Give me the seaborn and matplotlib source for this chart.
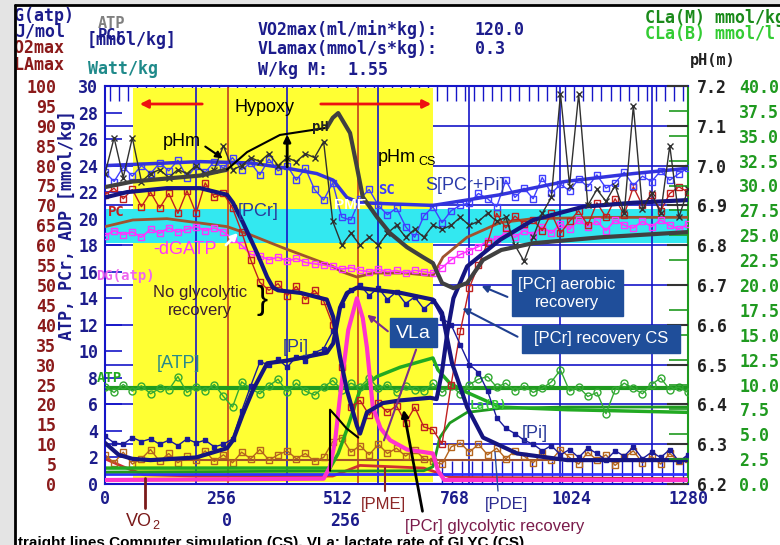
import numpy as np
import pandas as pd
import seaborn as sns
import matplotlib.pyplot as plt
from matplotlib.patches import Rectangle, FancyArrowPatch
from matplotlib.lines import Line2D

W, H = 780, 545

# ---------------- data (x in plot units 0..1280) ----------------
# measured series, one value every 20 units
t_meas = list(range(0, 1281, 20))
s_meas = [23.5, 22.8, 23.9, 23.2, 24.0, 23.4, 24.2, 23.6, 24.4, 23.1,
          24.0, 23.5, 24.3, 23.8, 24.6, 23.7, 24.2, 23.3, 24.5, 23.6,
          24.0, 22.9, 23.8, 22.2, 21.4, 22.7, 20.1, 19.9, 21.5, 22.2,
          21.0, 20.3, 20.8, 19.4, 18.6, 20.2, 20.9, 19.7, 20.6, 21.0,
          21.2, 21.9, 21.5, 20.9, 22.9, 21.6, 22.3, 21.5, 23.1, 21.9,
          22.6, 22.1, 23.0, 22.4, 23.3, 22.3, 22.7, 23.5, 22.5, 23.2,
          22.8, 23.6, 22.9, 23.4, 23.8]
ph_meas = [6.98, 7.07, 6.97, 7.07, 6.96, 6.98, 6.99, 6.97, 6.99, 6.98,
           7.00, 6.98, 6.99, 7.05, 6.99, 7.00, 7.02, 7.01, 7.03, 7.00,
           7.02, 7.01, 7.03, 7.02, 7.06, 6.86, 6.80, 6.83, 6.80, 6.82,
           6.80, 6.83, 6.85, 6.82, 6.84, 6.82, 6.85, 6.84, 6.85, 6.87,
           6.85, 6.86, 6.88, 6.86, 6.87, 6.80, 6.76, 6.82, 6.88, 6.92,
           7.18, 6.95, 7.18, 6.90, 6.94, 6.91, 6.95, 6.88, 7.15, 6.89,
           6.93, 6.88, 7.05, 6.87, 6.94]
pcr_meas = [21.8, 22.3, 21.5, 22.2, 20.9, 22.0, 20.8, 21.9, 20.4, 22.1,
            20.4, 22.7, 21.6, 21.9, 20.8, 19.0, 16.9, 15.2, 14.6, 15.1,
            14.2, 14.9, 13.9, 14.6, 13.8, 12.0, 8.8, 5.8, 6.3, 5.2,
            6.1, 5.4, 5.9, 4.6, 5.8, 4.3, 4.1, 3.0, 7.5, 11.5,
            14.8, 16.5, 18.2, 20.4, 19.3, 20.2, 19.6, 19.9, 19.1, 20.4,
            18.9, 19.8, 20.6, 19.5, 21.2, 20.1, 21.5, 20.3, 22.4, 21.0,
            21.8, 20.6, 21.9, 22.4, 22.0]
dgatp_meas = [18.7, 19.1, 18.8, 19.0, 18.6, 19.2, 18.9, 19.3, 19.0, 19.2,
              19.4, 19.1, 19.3, 19.0, 18.5, 18.0, 17.3, 17.2, 16.9, 17.1,
              16.8, 17.0, 16.7, 16.6, 16.5, 16.4, 16.2, 16.3, 16.1, 16.0,
              16.2, 16.0, 16.1, 15.9, 16.1, 16.0, 15.9, 16.3, 16.9, 17.3,
              17.6, 17.9, 18.3, 18.5, 18.9, 18.6, 19.1, 18.8, 19.4, 18.9,
              19.6, 19.2, 19.9, 19.4, 19.8, 19.1, 19.9, 19.5, 19.3, 19.8,
              19.4, 19.9, 19.5, 19.2, 19.6]
atp_meas = [7.3, 6.9, 7.5, 7.0, 7.4, 6.8, 7.2, 7.1, 8.1, 6.9,
            7.3, 7.0, 7.5, 6.6, 5.8, 7.7, 7.2, 6.8, 7.4, 7.9,
            6.9, 7.6, 7.0, 6.7, 7.3, 7.8, 7.1, 7.6, 7.3, 8.0,
            7.2, 7.5, 6.9, 7.4, 7.1, 7.0, 7.6, 6.9, 7.4, 6.8,
            7.5, 7.9, 8.1, 7.3, 7.6, 7.0, 7.4, 6.9, 7.2, 7.7,
            8.6, 7.0, 7.3, 6.6, 6.9, 5.3, 7.1, 7.6, 7.2, 6.8,
            7.5, 8.0, 7.1, 7.3, 6.9]
pi_meas = [3.6, 3.1, 3.0, 3.5, 3.2, 3.4, 3.0, 3.3, 2.9, 3.4,
           3.1, 3.3, 2.8, 3.0, 3.4, 5.5, 7.4, 9.2, 9.0, 9.4,
           8.8, 9.6, 9.3, 9.9, 10.2, 11.5, 13.5, 14.6, 15.0, 14.2,
           14.8, 13.9, 14.5, 13.6, 14.1, 13.2, 13.8, 12.5, 12.0, 10.5,
           9.0, 8.4, 7.0, 5.0, 4.2, 3.8, 3.3, 3.0, 2.5, 2.9,
           2.2, 2.6, 2.0, 2.7, 2.3, 1.8, 2.5, 2.1, 2.8, 1.9,
           2.4, 2.0, 2.6, 1.7, 2.2]
pme_meas = [2.2, 1.6, 2.4, 1.5, 1.9, 2.6, 1.7, 2.3, 1.6, 2.1,
            1.8, 2.5, 1.7, 2.2, 1.6, 2.4, 1.9, 2.6, 1.8, 2.2,
            2.5, 1.9, 2.3, 1.7, 2.0, 3.2, 3.5, 2.4, 2.9, 2.2,
            3.0, 2.3, 2.7, 2.1, 2.6, 1.9, 1.7, 1.5, 2.8, 3.1,
            2.4, 3.0, 2.2, 2.7, 1.9, 2.5, 2.1, 1.6, 2.3, 1.8,
            2.6, 2.0, 1.5, 2.4, 1.8, 2.2, 1.4, 2.0, 2.5, 1.6,
            2.1, 1.5, 2.3, 1.7, 1.9]

# computer simulation (CS) curves
pcr_t = [0, 48, 136, 209, 268, 281, 303, 334, 356, 369, 380, 430, 487, 501, 516, 531,
         553, 560, 575, 610, 648, 714, 728, 740, 752, 765, 795, 867, 940, 1050, 1160, 1280]
pcr_sim = [21.6, 22.0, 22.3, 22.3, 21.8, 21.2, 19.7, 17.4, 15.6, 14.8, 14.6, 14.4, 13.9, 12.6, 9.6, 7.1,
           4.4, 3.8, 5.4, 6.1, 6.3, 6.5, 6.4, 8.5, 11.5, 14.0, 16.4, 18.4, 19.9, 20.9, 21.2, 21.4]
pi_t = [0, 30, 60, 100, 200, 268, 281, 303, 325, 356, 400, 444, 487, 501, 516, 531, 553,
        600, 650, 720, 740, 762, 795, 830, 905, 1015, 1280]
pi_sim = [3.1, 2.2, 1.9, 1.8, 2.0, 2.7, 3.3, 5.3, 7.1, 9.1, 9.3, 9.6, 9.9, 10.6, 13.3, 14.4, 14.8,
          14.6, 14.4, 13.9, 12.9, 9.1, 5.8, 3.5, 2.3, 1.8, 1.8]
s_t = [0, 209, 319, 400, 465, 501, 531, 560, 720, 867, 1010, 1160, 1280]
s_sim = [24.0, 24.3, 24.2, 23.8, 23.4, 22.9, 21.6, 21.2, 21.0, 21.8, 22.8, 23.4, 23.8]
adp_t = [0, 61, 136, 268, 318, 391, 500, 520, 553, 590, 660, 720, 742, 795, 867, 940, 1090, 1280]
adp_sim = [19.4, 19.9, 20.0, 19.4, 18.8, 17.8, 16.4, 16.0, 15.6, 15.9, 15.9, 15.7, 17.1, 18.6,
           19.7, 20.0, 20.1, 20.1]
phcs_t = [0, 61, 209, 268, 312, 384, 487, 500, 512, 538, 553, 566, 597, 626, 663, 698, 720,
          740, 765, 795, 830, 870, 940, 1090, 1280]
phcs = [6.946, 6.960, 6.975, 6.990, 7.034, 7.077, 7.095, 7.120, 7.132, 7.082, 6.997, 6.921, 6.871,
        6.830, 6.795, 6.770, 6.755, 6.705, 6.692, 6.705, 6.763, 6.788, 6.805, 6.820, 6.833]
vla_t = [0, 480, 494, 505, 516, 534, 553, 566, 575, 588, 605, 626, 663, 720, 731, 745, 1280]
vla = [0.3, 0.4, 1.3, 3.2, 6.6, 11.6, 14.0, 12.5, 10.3, 5.8, 4.2, 3.3, 2.6, 2.3, 1.0, 0.3, 0.3]
clam_t = [0, 494, 512, 531, 560, 597, 648, 720, 731, 757, 795, 867, 1015, 1280]
clam = [1.2, 1.2, 2.3, 4.1, 7.1, 8.1, 8.8, 9.5, 8.6, 7.6, 6.9, 5.8, 5.6, 5.4]
clab_t = [0, 700, 720, 735, 757, 795, 867, 1015, 1280]
clab = [0.9, 1.0, 1.3, 3.5, 4.6, 5.4, 5.7, 5.8, 5.8]
atp_t = [0, 1280]
atp_sim = [7.2, 7.2]
vo2_t = [0, 40, 85, 200, 500, 560, 700, 760, 1280]
vo2 = [1.9, 1.3, 0.7, 0.6, 0.6, 1.4, 1.2, 0.5, 0.4]
glyc_t = [494, 494, 510, 530, 556]
glyc = [1.0, 5.6, 5.0, 4.2, 3.5]

x_ticks = [0, 256, 512, 768, 1024, 1280]
rest_ticks = ['0', '256']

# ---------------- style ----------------
sns.set_theme(style="white")
plt.rcParams['font.family'] = ['Liberation Sans', 'DejaVu Sans']
MONO = 'DejaVu Sans Mono'
NAVY = '#1c1c8c'
BLUE = '#1515c8'
DRED = '#8b1a1a'
GREEN = '#1f9a1f'
LGREEN = '#33cc33'
BOXC = '#1f4e9a'

meas = pd.DataFrame({'t': t_meas, 'S': s_meas, 'pH': ph_meas, 'PCr': pcr_meas,
                     'dGATP': dgatp_meas, 'ATP': atp_meas, 'Pi': pi_meas, 'PME': pme_meas})

fig = plt.figure(figsize=(7.8, 5.45), dpi=100)


def fx(x):
    return x / W


def fy(y):
    return 1 - y / H


def T(x, y, s, **kw):
    kw.setdefault('va', 'center')
    return fig.text(fx(x), fy(y), s, **kw)


def line(axis, x, y, **kw):
    sns.lineplot(x=x, y=y, ax=axis, estimator=None, errorbar=None, sort=False, legend=False, **kw)


def mline(axis, col, color, marker='s', ms=4, lw=1.0, mfc='none', z=3):
    sns.lineplot(data=meas, x='t', y=col, ax=axis, estimator=None, errorbar=None, legend=False,
                 color=color, lw=lw, marker=marker, markersize=ms, markerfacecolor=mfc,
                 markeredgecolor=color, markeredgewidth=1.0, zorder=z)


def arrow(x0, y0, x1, y1, color, lw=1.5, style='-|>', ms=10):
    fig.add_artist(FancyArrowPatch((fx(x0), fy(y0)), (fx(x1), fy(y1)), transform=fig.transFigure,
                                   arrowstyle=style, mutation_scale=ms, color=color, lw=lw))


ax = fig.add_axes([fx(105), fy(484), fx(688) - fx(105), fy(86) - fy(484)])
ax.set_xlim(0, 1280)
ax.set_ylim(0, 30)

# background: grid, hypoxy area, cyan band
for yv in range(3, 30, 3):
    ax.axhline(yv, color=BLUE, lw=1.2, zorder=0.5)
ax.vlines(list(range(10, 1280, 20)), 28.9, 30, color=BLUE, lw=1.0, zorder=0.6)
ax.axvspan(61, 720, ymin=0.005, ymax=0.995, color='#ffff33', lw=0, zorder=1)
ax.axhspan(18.2, 20.7, color='#33e8f0', lw=0, zorder=1.2)
for xv in range(200, 1280, 200):
    ax.axvline(xv, color=BLUE, lw=1.2, zorder=1.5)
for xv in [270, 555]:
    ax.axvline(xv, color='#c04020', lw=1.2, zorder=1.5)
ax.vlines(list(range(740, 1280, 22)), 0, 1.7, color=BLUE, lw=1.0, zorder=1.5)

# data on the mmol/kg scale
line(ax, vo2_t, vo2, color='#d03030', lw=2, zorder=2)
line(ax, [0, 1280], [0.75, 0.75], color='#3030ff', lw=2, zorder=2)
line(ax, [61, 1280], [1.8, 1.8], color='#a0522d', lw=1.5, zorder=2)
mline(ax, 'PME', '#b5651d', ms=4, z=2.2)
line(ax, clab_t, clab, color=GREEN, lw=2, zorder=2.4)
line(ax, clam_t, clam, color='#22aa22', lw=2.5, zorder=2.4)
line(ax, atp_t, atp_sim, color=GREEN, lw=3, zorder=2.5)
mline(ax, 'ATP', '#33aa33', marker='o', ms=5, z=2.6)
line(ax, adp_t, adp_sim, color='#a0522d', lw=2, zorder=2.7)
mline(ax, 'dGATP', '#ff33ff', ms=4, lw=1.2, z=2.8)
mline(ax, 'PCr', '#c02020', ms=4, z=2.9)
mline(ax, 'Pi', '#1a1a9a', ms=3, mfc='#1a1a9a', z=2.9)
mline(ax, 'S', '#4040ff', ms=4, z=3)
line(ax, s_t, s_sim, color='#3333dd', lw=2.5, zorder=3.1)
line(ax, vla_t, vla, color='#ff33cc', lw=3, zorder=3.2)
line(ax, pcr_t, pcr_sim, color='#151580', lw=3, zorder=3.3)
line(ax, pi_t, pi_sim, color='#151580', lw=3, zorder=3.3)
line(ax, glyc_t, glyc, color='black', lw=1.5, zorder=3.4)

ax.set_xlabel('')
ax.set_ylabel('')
ax.set_xticks(x_ticks)
ax.set_xticklabels([str(v) for v in x_ticks], fontfamily=MONO, fontweight='bold', fontsize=12, color=NAVY)
ax.set_yticks(list(range(0, 31, 2)))
ax.set_yticklabels([str(v) for v in range(0, 31, 2)], fontfamily=MONO, fontweight='bold',
                   fontsize=12, color=NAVY)
ax.tick_params(axis='x', length=0, pad=4)
ax.tick_params(axis='y', direction='in', length=12, width=1.2, color=BLUE, pad=5)
for side, c in [('left', BLUE), ('top', BLUE), ('bottom', BLUE), ('right', GREEN)]:
    ax.spines[side].set_visible(True)
    ax.spines[side].set_color(c)
    ax.spines[side].set_linewidth(1.5)

# pH scale (right)
ax_ph = ax.twinx()
ax_ph.set_ylim(6.2, 7.2)
ph_ticks = [6.2, 6.3, 6.4, 6.5, 6.6, 6.7, 6.8, 6.9, 7.0, 7.1, 7.2]
ax_ph.set_yticks(ph_ticks)
ax_ph.set_yticklabels(['%.1f' % v for v in ph_ticks], fontfamily=MONO, fontweight='bold',
                      fontsize=12, color='#222222')
ax_ph.set_yticks([6.2 + k * 0.0625 for k in range(17)], minor=True)
ax_ph.tick_params(axis='y', which='major', direction='in', length=15, width=1.5, color='#333333', pad=6.5)
ax_ph.tick_params(axis='y', which='minor', direction='in', length=14, width=1.2, color=GREEN)
for s in ax_ph.spines.values():
    s.set_visible(False)

line(ax_ph, phcs_t[:4], phcs[:4], color='#404040', lw=3, zorder=3)
line(ax_ph, phcs_t[3:7], phcs[3:7], color='black', lw=1.5, zorder=3)
line(ax_ph, phcs_t[6:], phcs[6:], color='#404040', lw=3, zorder=3)
sns.lineplot(data=meas, x='t', y='pH', ax=ax_ph, estimator=None, errorbar=None, legend=False,
             color='#303030', lw=1.0, marker='x', markersize=4, markeredgecolor='#303030',
             markeredgewidth=1.0, zorder=2.5)
ax_ph.annotate('', xy=(400, 7.085), xytext=(400, 6.99),
               arrowprops=dict(arrowstyle='-|>', color='black', lw=2, mutation_scale=10))
ax_ph.set_ylabel('')
ax_ph.set_xlim(0, 1280)

# lactate scale (far right) -- spine position first, it resets the tick labels
ax_cla = ax.twinx()
ax_cla.spines['right'].set_position(('outward', 36))
ax_cla.set_ylim(0, 40)
cla_ticks = [k * 2.5 for k in range(17)]
ax_cla.set_yticks(cla_ticks)
ax_cla.set_yticklabels(['%.1f' % v for v in cla_ticks], fontfamily=MONO, fontweight='bold',
                       fontsize=12, color=GREEN)
ax_cla.tick_params(axis='y', length=0, pad=1)
for s in ax_cla.spines.values():
    s.set_visible(False)

# outer left scale 0..100
ax_out = ax.twinx()
ax_out.yaxis.tick_left()
ax_out.spines['left'].set_position(('outward', 33))
ax_out.set_ylim(0, 100)
out_ticks = list(range(0, 101, 5))
ax_out.set_yticks(out_ticks)
ax_out.set_yticklabels([str(v) for v in out_ticks], fontfamily=MONO, fontweight='bold',
                       fontsize=12, color=DRED)
ax_out.tick_params(axis='y', length=0, pad=2)
for s in ax_out.spines.values():
    s.set_visible(False)

# ---------------- header texts ----------------
mono = dict(fontfamily=MONO, fontweight='bold', fontsize=12)
T(5, 16, 'DG(atp)', color=NAVY, **mono)
T(15, 32, 'J/mol', color=NAVY, **mono)
T(5, 48, 'VO2max', color=DRED, **mono)
T(5, 65, 'VLAmax', color=DRED, **mono)
T(98, 23, 'ATP', color='#808080', fontfamily=MONO, fontweight='bold', fontsize=11)
T(98, 36, 'PCr', color=NAVY, fontfamily=MONO, fontweight='bold', fontsize=11)
T(87, 40, '[mmol/kg]', color=NAVY, **mono)
T(88, 69, 'Watt/kg', color='#1f8a8a', **mono)
T(258, 30, 'VO2max(ml/min*kg):', color=NAVY, **mono)
T(475, 30, '120.0', color=NAVY, **mono)
T(258, 49, 'VLamax(mmol/s*kg):', color=NAVY, **mono)
T(475, 49, '0.3', color=NAVY, **mono)
T(258, 70, 'W/kg M:  1.55', color=NAVY, **mono)
T(645, 18, 'CLa(M) mmol/kg', color='#1a8a1a', **mono)
T(645, 34, 'CLa(B) mmol/l', color=LGREEN, **mono)
T(690, 60, 'pH(m)', color='#222222', fontfamily=MONO, fontweight='bold', fontsize=11)
T(67, 225, 'ATP, PCr, ADP [mmol/kg]', color=NAVY, rotation=90, ha='center', **mono)

# ---------------- annotations inside the plot ----------------
T(265, 107, 'Hypoxy', fontsize=13, color='black', ha='center')
arrow(205, 104, 137, 104, '#ee1111', lw=2, ms=12)
arrow(318, 104, 434, 104, '#ee1111', lw=2, ms=12)

T(182, 141, 'pHm', fontsize=13, color='black', ha='center')
arrow(203, 145, 225, 160, 'black')
T(378, 158, 'pHm', fontsize=13, color='black')
T(418, 162, 'CS', fontsize=9, color='black')
T(465, 185, 'S[PCr+Pi]', fontsize=13, color='#2a3aaa', ha='center')
T(258, 211, '[PCr]', fontsize=13, color='#2a3a9a', ha='center')
T(185, 250, '-dGATP', fontsize=13, color='#ff33ff', ha='center')
arrow(224, 247, 240, 231, 'white', lw=2)
T(96, 276, 'DG(atp)', color='#ee66ee', fontfamily=MONO, fontweight='bold', fontsize=10)
T(200, 293, 'No glycolytic', fontsize=12, color='#3b1e2e', ha='center')
T(200, 311, 'recovery', fontsize=12, color='#3b1e2e', ha='center')
T(262, 300, '}', fontsize=24, color='black', ha='center')
T(296, 347, '[Pi]', fontsize=13, color='#2a3a9a', ha='center')
T(179, 364, '[ATP]', fontsize=13, color='#2a8a8a', ha='center')
T(97, 378, 'ATP', color='#22aa22', fontfamily=MONO, fontweight='bold', fontsize=10)
T(108, 212, 'PC', color='#c02020', fontfamily=MONO, fontweight='bold', fontsize=10)
T(312, 127, 'pH', color='#222222', fontfamily=MONO, fontweight='bold', fontsize=10)
T(378, 190, 'SC', color='#3a3aff', fontfamily=MONO, fontweight='bold', fontsize=10)
T(334, 205, 'PMF', color='white', fontsize=11, fontweight='bold')
T(470, 406, 'La(B)', color=LGREEN, fontfamily=MONO, fontweight='bold', fontsize=9)
T(535, 434, '[Pi]', fontsize=13, color='#2a3a9a', ha='center')

# boxed labels
for (x0, y0, x1, y1) in [(390, 318, 437, 347), (512, 270, 623, 316), (522, 325, 680, 353)]:
    fig.add_artist(Rectangle((fx(x0), fy(y1)), fx(x1) - fx(x0), fy(y0) - fy(y1),
                             transform=fig.transFigure, color=BOXC, zorder=4))
T(413, 333, 'VLa', fontsize=14, color='white', ha='center', zorder=5)
T(567, 284, '[PCr] aerobic', fontsize=12, color='white', ha='center', zorder=5)
T(567, 303, 'recovery', fontsize=12, color='white', ha='center', zorder=5)
T(601, 339, '[PCr] recovery CS', fontsize=12, color='white', ha='center', zorder=5)
arrow(390, 333, 365, 313, '#7b2d8b')
arrow(417, 347, 383, 443, '#7b2d8b', style='-')
arrow(510, 298, 479, 285, '#1f3f8f')
arrow(520, 338, 460, 307, '#1f3f8f')

# labels below the axis
fig.add_artist(Line2D([fx(145), fx(145)], [fy(478), fy(508)], color='#7a1a1a', lw=2))
T(139, 521, 'VO', fontsize=13, color='#7a1a1a', ha='center')
T(156, 526, '2', fontsize=9, color='#7a1a1a', ha='center')
fig.add_artist(Line2D([fx(385), fx(385)], [fy(468), fy(491)], color='#8b2525', lw=1.5))
T(383, 504, '[PME]', fontsize=12, color='#8b2525', ha='center')
fig.add_artist(Line2D([fx(495), fx(498)], [fy(452), fy(491)], color='#2a4aa0', lw=1))
T(506, 504, '[PDE]', fontsize=12, color='#2a2a90', ha='center')
arrow(423, 514, 403, 407, 'black', lw=2)
T(227, 521, rest_ticks[0], color=NAVY, ha='center', **mono)
T(345, 521, rest_ticks[1], color=NAVY, ha='center', **mono)
T(495, 527, '[PCr] glycolytic recovery', fontsize=12, color='#7a1a4a', ha='center')
T(18, 536, 'traight lines Computer simulation (CS), VLa: lactate rate of GLYC (CS)',
  fontsize=11, fontweight='bold', color='black', va='top')

# window frame (cuts the left edge of the header texts)
fig.add_artist(Rectangle((0, 0), fx(15), 1, transform=fig.transFigure, color='#e4e4e4', zorder=10))
fig.add_artist(Rectangle((0, fy(5)), 1, 1 - fy(5), transform=fig.transFigure, color='#e4e4e4', zorder=10))
fig.add_artist(Line2D([fx(15), fx(15)], [0, fy(5)], color='black', lw=2, zorder=11))
fig.add_artist(Line2D([fx(15), 1], [fy(5), fy(5)], color='black', lw=2, zorder=11))

fig.savefig('out.png', dpi=100)
